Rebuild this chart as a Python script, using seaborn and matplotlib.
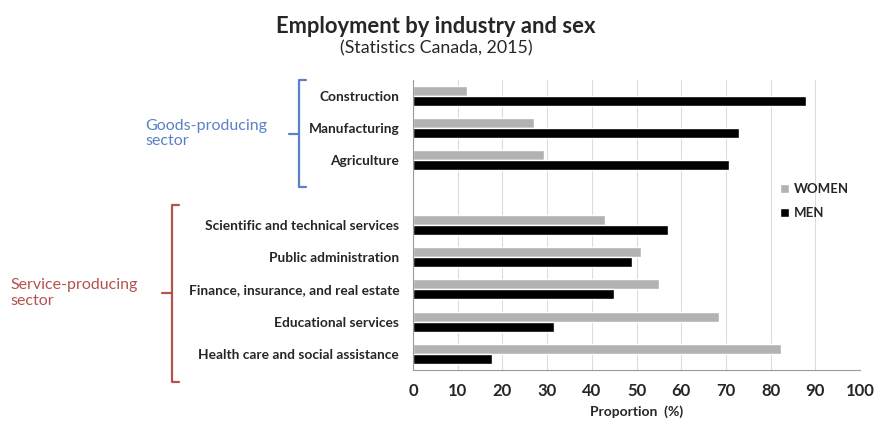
import pandas as pd
import matplotlib.pyplot as plt
import matplotlib.transforms as mtransforms
import seaborn as sns

# data (percent of employment)
industries = [
    "Construction",
    "Manufacturing",
    "Agriculture",
    "Scientific and technical services",
    "Public administration",
    "Finance, insurance, and real estate",
    "Educational services",
    "Health care and social assistance",
]
womenShare = [12, 27, 29.4, 43, 51, 55, 68.4, 82.3]
menShare = [88, 73, 70.6, 57, 49, 45, 31.6, 17.7]
sexLabels = ["WOMEN", "MEN"]
xTicks = [0, 10, 20, 30, 40, 50, 60, 70, 80, 90, 100]

# blank slot separates goods- and service-producing sectors
rowOrder = industries[:3] + [" "] + industries[3:]

frame = pd.DataFrame({
    "Industry": industries * 2,
    "Sex": [sexLabels[0]] * len(industries) + [sexLabels[1]] * len(industries),
    "Share": womenShare + menShare,
})

sns.set_style("white")
plt.rcParams["font.family"] = ["Lato", "DejaVu Sans"]

fig = plt.figure(figsize=(8.77, 4.28), dpi=100)
ax = fig.add_axes([0.471, 0.1355, 0.5096, 0.678])

sns.barplot(
    data=frame, y="Industry", x="Share", hue="Sex",
    order=rowOrder, hue_order=sexLabels,
    palette={"WOMEN": "#b2b2b2", "MEN": "#000000"},
    width=0.62, orient="h", ax=ax, errorbar=None, saturation=1,
)

ax.set_xlim(0, 100)
ax.set_ylim(len(rowOrder) - 0.5, -0.5)
ax.set_xticks(xTicks)
ax.set_xticklabels([str(t) for t in xTicks], fontsize=12, fontweight="bold")
ax.set_yticks(range(len(rowOrder)))
ax.set_yticklabels(rowOrder, fontsize=9.9, fontweight="bold")
ax.set_yticks([i - 0.5 for i in range(len(rowOrder) + 1)], minor=True)
ax.tick_params(axis="y", which="major", length=0, pad=10)
ax.tick_params(axis="y", which="minor", length=5, color="#9a9a9a", width=0.8)
ax.tick_params(axis="x", length=4, color="#9a9a9a", width=0.8, pad=5)
ax.set_ylabel("")
ax.set_xlabel("Proportion  (%)", fontsize=10, fontweight="bold", labelpad=5)

ax.grid(axis="x", color="#dcdcdc", linewidth=0.8)
ax.set_axisbelow(True)
for side in ["top", "right"]:
    ax.spines[side].set_visible(False)
for side in ["left", "bottom"]:
    ax.spines[side].set_color("#9a9a9a")
    ax.spines[side].set_linewidth(0.8)

leg = ax.legend(
    loc="upper left", bbox_to_anchor=(0.795, 0.685), frameon=False,
    handlelength=0.7, handleheight=0.7, handletextpad=0.35,
    labelspacing=0.9, prop={"weight": "bold", "size": 9.5},
)

fig.text(0.497, 0.937, "Employment by industry and sex",
         ha="center", va="center", fontsize=15.8, fontweight="bold")
fig.text(0.497, 0.887, "(Statistics Canada, 2015)",
         ha="center", va="center", fontsize=12.8)

# sector brackets: x in figure fraction, y in data units
blend = mtransforms.blended_transform_factory(fig.transFigure, ax.transData)


def drawBracket(xLine, yTop, yBottom, color, label, labelX):
    hook = 0.008
    ax.plot([xLine + hook, xLine, xLine, xLine + hook],
            [yTop, yTop, yBottom, yBottom],
            transform=blend, color=color, linewidth=1.6, clip_on=False,
            solid_joinstyle="round")
    yMid = (yTop + yBottom) / 2
    ax.plot([xLine - 0.011, xLine], [yMid, yMid], transform=blend,
            color=color, linewidth=1.6, clip_on=False)
    ax.text(labelX, yMid, label, transform=blend, color=color,
            fontsize=11.5, ha="left", va="center", linespacing=1.15)


drawBracket(0.341, -0.5, 2.83, "#5b80c6", "Goods-producing\nsector", 0.166)
drawBracket(0.196, 3.37, 8.87, "#b5524d", "Service-producing\nsector", 0.012)

fig.savefig("out.png", dpi=100)
